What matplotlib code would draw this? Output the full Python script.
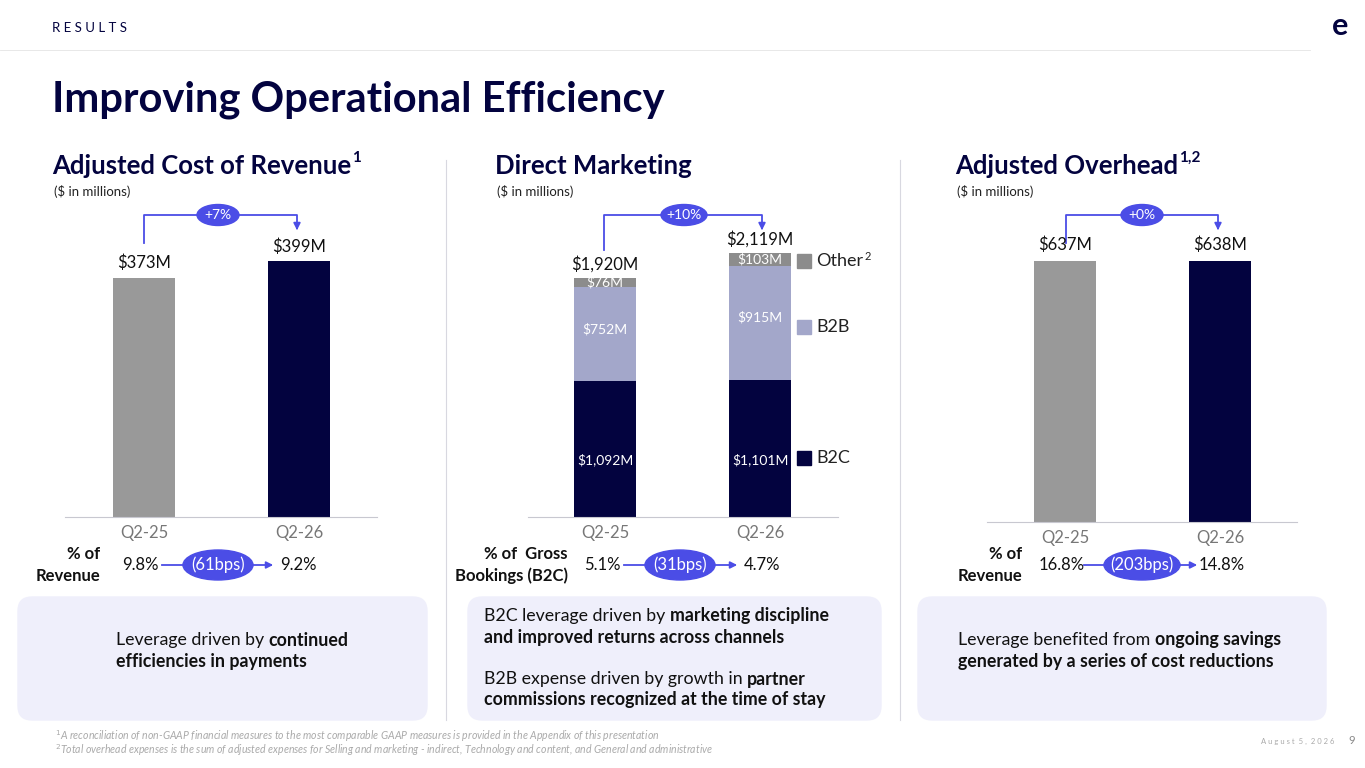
import matplotlib
matplotlib.use("Agg")
import matplotlib.pyplot as plt
from matplotlib.patches import FancyBboxPatch, Rectangle, Ellipse

plt.rcParams["font.family"] = ["Lato", "DejaVu Sans"]

NAVY = "#03033f"
GREY = "#999999"
B2B_C = "#a3a7ca"
OTHER_C = "#8c8c8c"
ACCENT = "#4b4de6"
BOX = "#efeffb"

quarters = ["Q2-25", "Q2-26"]
cost_rev = [373, 399]
dm_b2c = [1092, 1101]
dm_b2b = [752, 915]
dm_other = [76, 103]
dm_total = [1920, 2119]
overhead = [637, 638]
growth = ["+7%", "+10%", "+0%"]
pct_cost = ["9.8%", "9.2%"]
pct_dm = ["5.1%", "4.7%"]
pct_oh = ["16.8%", "14.8%"]
bps = ["(61bps)", "(31bps)", "(203bps)"]

W, H = 1365, 768
fig = plt.figure(figsize=(13.65, 7.68), dpi=100)
ov = fig.add_axes([0, 0, 1, 1])
ov.set_xlim(0, W); ov.set_ylim(H, 0); ov.axis("off")


def bar_axes(left, right, base, c0, c1, vmax, top_px, top=200):
    s = c1 - c0
    ax = fig.add_axes([left / W, 1 - base / H, (right - left) / W, (base - top) / H])
    ax.set_xlim((left - c0) / s, (right - c0) / s)
    ax.set_ylim(0, vmax * (base - top) / (base - top_px))
    for sp in ["top", "right", "left"]:
        ax.spines[sp].set_visible(False)
    ax.spines["bottom"].set_color("#c8c8d0")
    ax.set_yticks([])
    ax.set_xticks([0, 1], quarters, color="#777777", fontsize=12)
    ax.tick_params(axis="x", length=0, pad=6)
    ax.patch.set_alpha(0)
    return ax


fig.canvas.draw()
rend = fig.canvas.get_renderer()
inv = ov.transData.inverted()


def right_edge(t):
    bb = t.get_window_extent(rend)
    return inv.transform((bb.x1, bb.y0))[0]


# header
ov.text(52, 28, "R E S U L T S", fontsize=9.5, color=NAVY, va="center")
ov.plot([0, 1310], [50, 50], color="#e4e4e4", lw=0.6)
ov.text(1340, 26, "e", fontsize=22, fontweight="bold", color=NAVY, ha="center", va="center")
ov.text(52, 100, "Improving Operational Efficiency", fontsize=30, fontweight="bold",
        color=NAVY, va="center")
for x, t, sup in [(52, "Adjusted Cost of Revenue", "1"), (495, "Direct Marketing", ""),
                  (955, "Adjusted Overhead", "1,2")]:
    tt = ov.text(x, 166, t, fontsize=18.5, fontweight="bold", color=NAVY, va="center")
    if sup:
        ov.text(right_edge(tt) + 1, 158, sup, fontsize=11, fontweight="bold", color=NAVY, va="center")
    ov.text(x + 2, 191, "($ in millions)", fontsize=9.5, color="#222222", va="center")
for x in [446, 900]:
    ov.plot([x, x], [160, 720], color="#d8d8e0", lw=0.8)

# chart 1
ax1 = bar_axes(65, 377, 517, 144, 299, cost_rev[1], 261)
ax1.bar([0, 1], cost_rev, width=0.4, color=[GREY, NAVY])
for i, v in enumerate(cost_rev):
    ax1.text(i, v + 10, f"${v}M", ha="center", va="bottom", fontsize=12, color="#111111")

# chart 2
ax2 = bar_axes(528, 838, 517, 605, 760, dm_total[1], 253)
bot2 = [a + b for a, b in zip(dm_b2c, dm_b2b)]
ax2.bar([0, 1], dm_b2c, width=0.4, color=NAVY)
ax2.bar([0, 1], dm_b2b, width=0.4, bottom=dm_b2c, color=B2B_C)
ax2.bar([0, 1], dm_other, width=0.4, bottom=bot2, color=OTHER_C)
for i in range(2):
    ax2.text(i, dm_b2c[i] * 0.42, f"${dm_b2c[i]:,}M", ha="center", va="center", fontsize=10, color="white")
    ax2.text(i, dm_b2c[i] + dm_b2b[i] * 0.55, f"${dm_b2b[i]}M", ha="center", va="center", fontsize=10, color="white")
    ax2.text(i, bot2[i] + dm_other[i] / 2, f"${dm_other[i]}M", ha="center", va="center", fontsize=10, color="white")
    ax2.text(i, dm_total[i] + 45, f"${dm_total[i]:,}M", ha="center", va="bottom", fontsize=12, color="#111111")
for y, c, t in [(261, OTHER_C, "Other"), (327, B2B_C, "B2B"), (458, NAVY, "B2C")]:
    ov.add_patch(Rectangle((797, y - 7), 14, 14, color=c))
    tt = ov.text(816, y, t, fontsize=13, color="#222222", va="center")
    if t == "Other":
        ov.text(right_edge(tt) + 1, y - 5, "2", fontsize=8, color="#222222", va="center")

# chart 3
ax3 = bar_axes(987, 1297, 522, 1065, 1220, overhead[1], 261)
ax3.bar([0, 1], overhead, width=0.4, color=[GREY, NAVY])
for i, v in enumerate(overhead):
    ax3.text(i, v + 20, f"${v}M", ha="center", va="bottom", fontsize=12, color="#111111")


def pill(x, y, w, h, txt, fs):
    ov.add_patch(Ellipse((x, y), w, h, color=ACCENT, zorder=3))
    ov.text(x, y, txt, fontsize=fs, color="white", ha="center", va="center", zorder=4)


# growth brackets
for (x0, y0, x1, xm), g in zip([(144, 243, 297, 218), (604, 250, 762, 684), (1066, 243, 1218, 1142)], growth):
    ov.plot([x0, x0, x1, x1], [y0, 215, 215, 226], color=ACCENT, lw=1.3)
    ov.annotate("", xy=(x1, 233), xytext=(x1, 224),
                arrowprops=dict(arrowstyle="-|>", color=ACCENT, lw=1.3, mutation_scale=10))
    pill(xm, 215, 42 if len(g) < 4 else 46, 21, g, 10)

# % rows
rows = [(100, "% of\nRevenue", 140, 218, 298, pct_cost, 565),
        (568, "% of  Gross\nBookings (B2C)", 602, 680, 762, pct_dm, 565),
        (1022, "% of\nRevenue", 1062, 1142, 1222, pct_oh, 565)]
for (lx, lab, xa, xp, xb, vals, y), b in zip(rows, bps):
    ov.text(lx, y, lab, fontsize=12, fontweight="bold", color="#111111", ha="right",
            va="center", linespacing=1.45, multialignment="right")
    ov.text(xa, y, vals[0], fontsize=12, color="#111111", ha="center", va="center")
    ov.text(xb, y, vals[1], fontsize=12, color="#111111", ha="center", va="center")
    ov.plot([xa + 22, xp], [y, y], color=ACCENT, lw=1.3)
    ov.annotate("", xy=(xb - 22, y), xytext=(xp, y),
                arrowprops=dict(arrowstyle="-|>", color=ACCENT, lw=1.3, mutation_scale=10))
    pill(xp, y, 70 if len(b) < 8 else 76, 30, b, 12)

# commentary boxes
for x0, x1 in [(18, 427), (468, 881), (918, 1326)]:
    ov.add_patch(FancyBboxPatch((x0, 597), x1 - x0, 123, boxstyle="round,pad=0,rounding_size=14",
                                mutation_aspect=1, color=BOX, zorder=1))


def rich(x, y, parts):
    for txt, bold in parts:
        t = ov.text(x, y, txt, fontsize=12.8, color="#111111", va="center",
                    fontweight="bold" if bold else "normal", zorder=2)
        x = right_edge(t)


rich(116, 640, [("Leverage driven by ", False), ("continued", True)])
rich(116, 662, [("efficiencies in payments", True)])
rich(484, 616, [("B2C leverage driven by ", False), ("marketing discipline", True)])
rich(484, 637, [("and improved returns across channels", True)])
rich(484, 679, [("B2B expense driven by growth in ", False), ("partner", True)])
rich(484, 699, [("commissions recognized at the time of stay", True)])
rich(958, 640, [("Leverage benefited from ", False), ("ongoing savings", True)])
rich(958, 661, [("generated by a series of cost reductions", True)])

# footer
ov.text(55, 736, "$^{1}$A reconciliation of non-GAAP financial measures to the most comparable GAAP measures is provided in the Appendix of this presentation",
        fontsize=7.6, style="italic", color="#aaaaaa", va="center")
ov.text(55, 750, "$^{2}$Total overhead expenses is the sum of adjusted expenses for Selling and marketing - indirect, Technology and content, and General and administrative",
        fontsize=7.6, style="italic", color="#aaaaaa", va="center")
ov.text(1334, 741, "A u g u s t  5 ,  2 0 2 6", fontsize=5.5, color="#aaaaaa", ha="right", va="center")
ov.text(1352, 741, "9", fontsize=8, color="#888888", ha="center", va="center")

fig.savefig("out.png", dpi=100)
